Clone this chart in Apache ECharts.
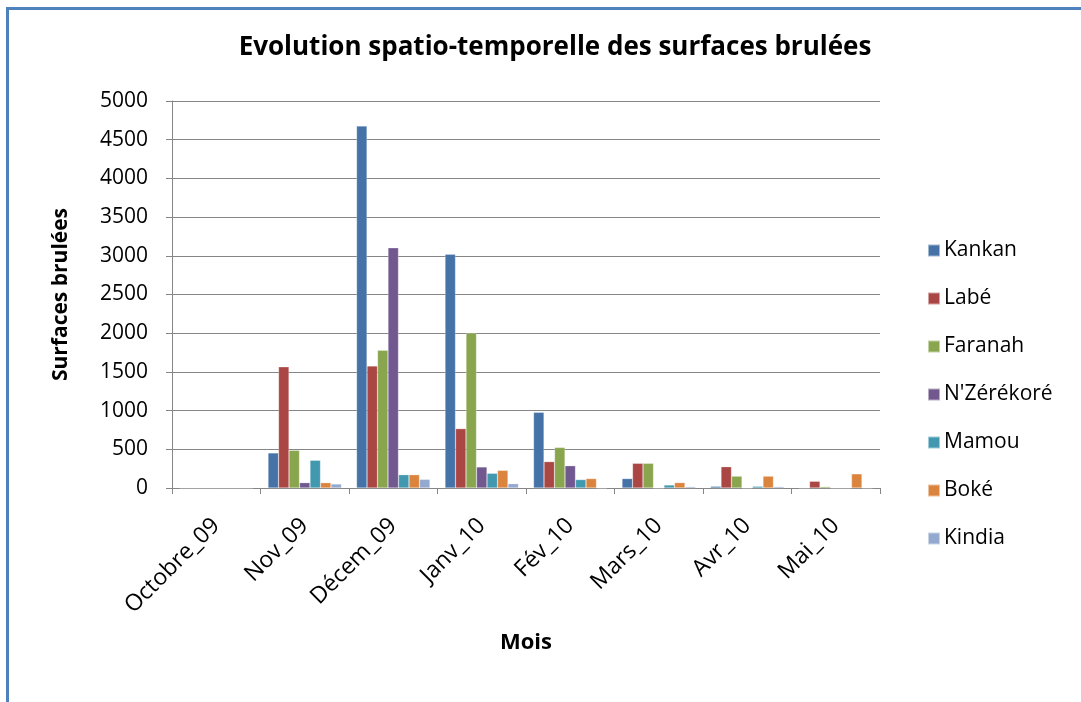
<!DOCTYPE html>
<html><head><meta charset="utf-8">
<script src="https://cdn.jsdelivr.net/npm/echarts@6/dist/echarts.min.js"></script>
<style>html,body{margin:0;padding:0;background:#fff}#c{width:1081px;height:702px}</style>
</head><body><div id="c"></div>
<script>
const categories = ['Octobre_09','Nov_09','Décem_09','Janv_10','Fév_10','Mars_10','Avr_10','Mai_10'];
const seriesNames = ['Kankan','Labé','Faranah',"N'Zérékoré",'Mamou','Boké','Kindia'];
const kankan   = [0, 453, 4677, 3021, 978, 122, 22, 0];
const labe     = [0, 1565, 1577, 767, 341, 319, 275, 87];
const faranah  = [0, 487, 1780, 2004, 524, 319, 153, 17];
const nzerekore= [0, 69, 3103, 272, 288, 0, 0, 0];
const mamou    = [0, 358, 172, 190, 109, 39, 22, 0];
const boke     = [0, 69, 172, 228, 122, 70, 153, 183];
const kindia   = [0, 52, 112, 56, 0, 17, 17, 0];
const yTicks = [0,500,1000,1500,2000,2500,3000,3500,4000,4500,5000];
const values = [kankan, labe, faranah, nzerekore, mamou, boke, kindia];
const colors = ['#4572a7','#aa4643','#89a54e','#71588f','#4198af','#db843d','#93a9cf'];
const font = "'Open Sans', 'Noto Sans', sans-serif";

const chart = echarts.init(document.getElementById('c'), null, {renderer:'canvas'});
chart.setOption({
  animation:false,
  backgroundColor:'#fff',
  color: colors,
  title:{
    text:'Evolution spatio-temporelle des surfaces brulées',
    left:550, top:30, textAlign:'center',
    textStyle:{fontFamily:font, fontSize:26, fontWeight:'bold', color:'#000'}
  },
  legend:{
    orient:'vertical', left:922, top:235,
    itemWidth:12, itemHeight:12, itemGap:27,
    icon:'rect',
    textStyle:{fontFamily:font, fontSize:21, color:'#000', padding:[0,0,0,-1]},
    data: seriesNames
  },
  grid:{left:172, right:201, top:101, bottom:214, containLabel:false},
  xAxis:{
    type:'category', data:categories,
    name:'Mois', nameLocation:'middle', nameGap:144,
    nameTextStyle:{fontFamily:font, fontSize:22, fontWeight:'bold', color:'#000'},
    axisLine:{lineStyle:{color:'#868686'}},
    axisTick:{show:true, length:6, lineStyle:{color:'#868686'}},
    axisLabel:{rotate:45, margin:34, fontFamily:font, fontSize:23, color:'#000', interval:0}
  },
  yAxis:{
    type:'value', min:0, max:5000, interval:500,
    name:'Surfaces brulées', nameLocation:'middle', nameGap:100,
    nameTextStyle:{fontFamily:font, fontSize:21, fontWeight:'bold', color:'#000'},
    axisLine:{show:true, lineStyle:{color:'#868686'}},
    axisTick:{show:true, length:6, lineStyle:{color:'#868686'}},
    axisLabel:{margin:24, fontFamily:font, fontSize:21, color:'#000',
      formatter:v => yTicks.includes(v) ? String(v) : ''},
    splitLine:{lineStyle:{color:'#868686', width:1}}
  },
  graphic:[
    {type:'line', shape:{x1:8, y1:8.5, x2:1081, y2:8.5}, style:{stroke:'#4f81bd', lineWidth:3}},
    {type:'line', shape:{x1:7.5, y1:7, x2:7.5, y2:702}, style:{stroke:'#4f81bd', lineWidth:3}}
  ],
  series: seriesNames.map((n,i)=>({
    name:n, type:'bar', data:values[i],
    barGap:'0%', barCategoryGap:'17%',
    itemStyle:{borderColor:'rgba(255,255,255,0.5)', borderWidth:0.5}
  }))
});
</script></body></html>
